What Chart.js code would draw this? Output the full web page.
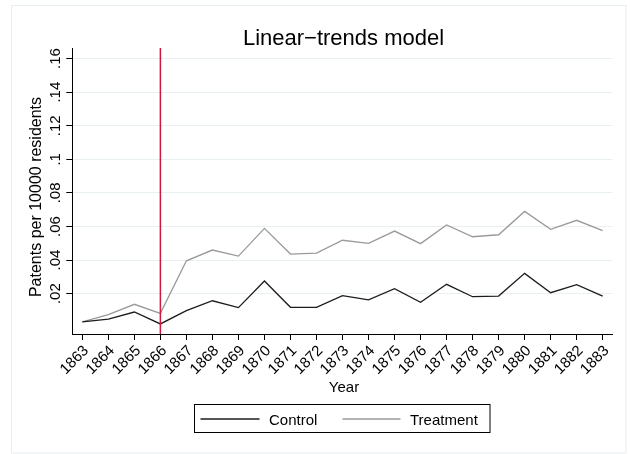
<!DOCTYPE html>
<html>
<head>
<meta charset="utf-8">
<script src="https://cdn.jsdelivr.net/npm/chart.js@4"></script>
<style>
  html, body { margin: 0; padding: 0; background: #fff; }
  canvas { display: block; }
</style>
</head>
<body>
<canvas id="chart" width="630" height="454"></canvas>
<script>
// data
const years = [1863, 1864, 1865, 1866, 1867, 1868, 1869, 1870, 1871, 1872, 1873,
               1874, 1875, 1876, 1877, 1878, 1879, 1880, 1881, 1882, 1883];
const control = [0.0032, 0.0049, 0.0091, 0.0020, 0.0099, 0.0158, 0.0117, 0.0276, 0.0119, 0.0119, 0.0188,
                 0.0163, 0.0230, 0.0149, 0.0256, 0.0182, 0.0186, 0.0321, 0.0206, 0.0254, 0.0186];
const treatment = [0.0032, 0.0075, 0.0137, 0.0083, 0.0396, 0.0460, 0.0424, 0.0589, 0.0436, 0.0442, 0.0518,
                   0.0500, 0.0573, 0.0498, 0.0609, 0.0539, 0.0551, 0.0690, 0.0583, 0.0637, 0.0575];
const yTicks = [0.02, 0.04, 0.06, 0.08, 0.1, 0.12, 0.14, 0.16];
const yTickLabels = [".02", ".04", ".06", ".08", ".1", ".12", ".14", ".16"];
const eventYear = 1866;

const FONT = "'Liberation Sans', Arial, Helvetica, sans-serif";
const DARK = "#1c1c1c";
const GRAY = "#9a9a9a";

function toPoints(vals) {
  return years.map((y, i) => ({ x: y, y: vals[i] }));
}

// extra drawing: frame, title, rotated y labels, axis titles, xline, legend
const stataDecor = {
  id: "stataDecor",
  beforeDraw(chart) {
    const ctx = chart.ctx;
    ctx.save();
    ctx.fillStyle = "#ffffff";
    ctx.fillRect(0, 0, chart.width, chart.height);
    ctx.strokeStyle = "#e6eeee";
    ctx.lineWidth = 1;
    ctx.strokeRect(11.5, 5.5, 614.5, 447.5);
    ctx.restore();
  },
  afterDatasetsDraw(chart) {
    const ctx = chart.ctx;
    const xs = chart.scales.x;
    const area = chart.chartArea;
    // vertical line at the event year
    const px = xs.getPixelForValue(eventYear);
    ctx.save();
    ctx.strokeStyle = "#d0183f";
    ctx.lineWidth = 1.5;
    ctx.beginPath();
    ctx.moveTo(px, area.top);
    ctx.lineTo(px, area.bottom);
    ctx.stroke();
    ctx.restore();
  },
  afterDraw(chart) {
    const ctx = chart.ctx;
    const ys = chart.scales.y;
    const area = chart.chartArea;
    ctx.save();
    ctx.fillStyle = "#000";

    // title
    ctx.font = "22px " + FONT;
    ctx.textAlign = "center";
    ctx.textBaseline = "alphabetic";
    ctx.fillText("Linear\u2212trends model", (area.left + area.right) / 2 + 1, 45);

    // y tick labels, vertical
    ctx.font = "15px " + FONT;
    yTicks.forEach((v, i) => {
      const py = ys.getPixelForValue(v);
      ctx.save();
      ctx.translate(59.5, py);
      ctx.rotate(-Math.PI / 2);
      ctx.textAlign = "center";
      ctx.fillText(yTickLabels[i], 0, 0);
      ctx.restore();
    });

    // y title
    ctx.font = "16px " + FONT;
    ctx.save();
    ctx.translate(40.5, 197);
    ctx.rotate(-Math.PI / 2);
    ctx.textAlign = "center";
    ctx.fillText("Patents per 10000 residents", 0, 0);
    ctx.restore();

    // x title
    ctx.font = "15px " + FONT;
    ctx.textAlign = "center";
    ctx.fillText("Year", 344, 392);

    // legend
    ctx.strokeStyle = "#000";
    ctx.lineWidth = 1;
    ctx.strokeRect(194.5, 404.5, 295.5, 28);
    ctx.lineWidth = 1.3;
    ctx.strokeStyle = DARK;
    ctx.beginPath(); ctx.moveTo(200.5, 419); ctx.lineTo(259.5, 419); ctx.stroke();
    ctx.strokeStyle = GRAY;
    ctx.beginPath(); ctx.moveTo(342.5, 419); ctx.lineTo(400.5, 419); ctx.stroke();
    ctx.textAlign = "left";
    ctx.fillText("Control", 269, 424.5);
    ctx.fillText("Treatment", 410, 424.5);
    ctx.restore();
  }
};

new Chart(document.getElementById("chart"), {
  type: "line",
  data: {
    datasets: [
      { label: "Control", data: toPoints(control), borderColor: DARK, borderWidth: 1.3 },
      { label: "Treatment", data: toPoints(treatment), borderColor: GRAY, borderWidth: 1.3 }
    ]
  },
  options: {
    responsive: false,
    animation: false,
    devicePixelRatio: 1,
    layout: { padding: { left: 0, right: 17.3, top: 48, bottom: 0 } },
    elements: { point: { radius: 0 }, line: { tension: 0, fill: false } },
    plugins: { legend: { display: false }, tooltip: { enabled: false } },
    scales: {
      x: {
        type: "linear",
        min: 1862.615,
        max: 1883.385,
        afterBuildTicks: (s) => { s.ticks = years.map(v => ({ value: v })); },
        afterFit: (s) => { s.height = 120; },
        ticks: {
          autoSkip: false,
          minRotation: 45,
          maxRotation: 45,
          padding: 2,
          labelOffset: 4,
          color: "#000",
          font: { family: FONT, size: 15 },
          callback: (v) => String(v)
        },
        grid: { drawOnChartArea: false, drawTicks: true, tickLength: 6, tickColor: "#000", tickWidth: 1 },
        border: { color: "#000", width: 1 }
      },
      y: {
        type: "linear",
        min: -0.004,
        max: 0.1663,
        afterBuildTicks: (s) => { s.ticks = yTicks.map(v => ({ value: v })); },
        afterFit: (s) => { s.width = 72.3; },
        ticks: { display: false },
        grid: { color: "#e8f0f0", lineWidth: 1, drawTicks: true, tickLength: 6, tickColor: "#000", tickWidth: 1 },
        border: { color: "#000", width: 1 }
      }
    }
  },
  plugins: [stataDecor]
});
</script>
</body>
</html>
